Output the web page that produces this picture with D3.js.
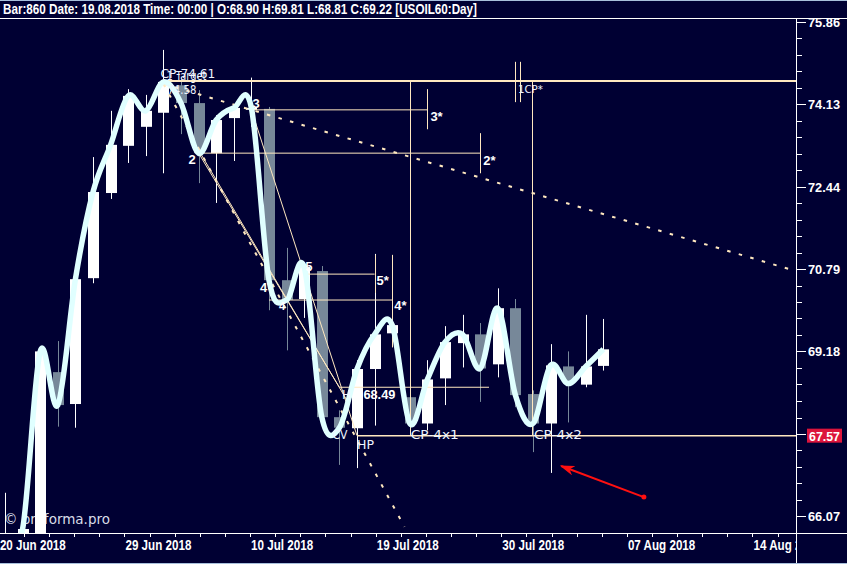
<!DOCTYPE html>
<html><head><meta charset="utf-8">
<script src="https://cdn.jsdelivr.net/npm/d3@7"></script>
<style>
html,body{margin:0;padding:0;background:#000033;overflow:hidden}
svg{display:block}
.nar{font-family:"Liberation Sans Narrow","Arial Narrow","Liberation Sans",Arial,sans-serif;font-weight:bold}
.reg{font-family:"DejaVu Sans","Liberation Sans",sans-serif}
</style></head><body>
<svg id="c" width="847" height="564"></svg>
<script>
// ---------- data ----------
const dates = ["2018-06-20","2018-06-21","2018-06-22","2018-06-25","2018-06-26","2018-06-27","2018-06-28","2018-06-29",
  "2018-07-02","2018-07-03","2018-07-04","2018-07-05","2018-07-06","2018-07-09","2018-07-10","2018-07-11","2018-07-12",
  "2018-07-13","2018-07-16","2018-07-17","2018-07-18","2018-07-19","2018-07-20","2018-07-23","2018-07-24","2018-07-25",
  "2018-07-26","2018-07-27","2018-07-30","2018-07-31","2018-08-01","2018-08-02","2018-08-03","2018-08-06","2018-08-07"];
const opens  = [65.45,65.40,65.75,68.78,68.17,70.61,72.31,73.27,73.66,73.95,74.52,74.15,73.12,73.84,74.01,74.03,70.57,70.20,70.75,67.92,67.71,68.84,69.53,68.30,67.80,68.66,69.34,69.51,68.93,70.02,68.36,67.80,68.89,68.54,68.90];
const highs  = [66.50,66.18,69.22,69.38,70.85,73.04,73.99,74.44,74.32,75.26,74.69,74.42,73.90,74.13,74.68,74.07,71.21,70.93,70.85,68.05,69.01,71.09,71.07,68.53,69.01,69.67,69.89,69.73,70.41,70.20,68.43,69.32,69.18,69.89,69.81];
const lows   = [65.20,65.30,65.60,67.74,67.72,70.51,72.19,72.92,73.06,72.71,73.51,72.51,72.11,72.96,73.66,69.98,69.20,69.83,67.71,67.02,66.96,67.76,69.26,67.67,67.67,68.15,68.87,68.21,68.68,68.11,67.26,66.87,67.82,68.49,68.81];
const closes = [65.70,65.83,69.18,68.15,70.59,72.33,73.29,74.30,73.99,74.59,74.15,73.12,73.80,74.05,74.05,70.57,70.18,70.83,67.92,67.72,68.84,69.51,69.69,67.80,68.64,69.36,69.51,68.85,70.02,68.34,67.80,68.91,68.56,68.89,69.22];

const priceTicks  = [75.86,74.13,72.44,70.79,69.18,67.60,66.07];
const priceLabels = ["75.86","74.13","72.44","70.79","69.18","","66.07"];
const lastPrice = 67.57;
const dateLabels = ["20 Jun 2018","29 Jun 2018","10 Jul 2018","19 Jul 2018","30 Jul 2018","07 Aug 2018","14 Aug 2018"];
const dateLabelSlots = [-1,4,9,14,19,24,29];
const header = "Bar:860 Date: 19.08.2018 Time: 00:00 | O:68.90 H:69.81 L:68.81 C:69.22  [USOIL60:Day]";

// annotation objects (bar index, price)
const hLines = [ // [i0, i1 (null = right edge), price, width]
  [9,null,74.61,2],[14,24,74.01,1],[11,27,73.12,1],[17,21,70.69,1],[15,22,70.18,1],[19,27.5,68.49,1],[20,null,67.57,1.5]];
const vLines = [ // [i, p0, p1]
  [23,74.61,67.57],[29.95,74.61,67.57],[29,75.01,74.17],[29.25,75.01,74.17],
  [24,74.44,73.61],[27,73.53,72.71],[21,71.07,70.32],[22,71.07,69.26]];
const fanLines = [ // [i0,p0,i1,p1]
  [11,73.12,19,68.49],[11.1,73.12,19.5,68.2],[14,74.01,20,67.57]];
const dotLines = [[9,74.55,44.94,70.75],[9,74.55,22.7,65.87]];
const labels = [ // [text, i, price, dx, dy, cls, size, width]
  ["CP-74.61",9,74.61,-3,-3,"reg",12,55],["1 Target",9,74.61,3,-1,"reg",12,40],["74.58",9,74.58,4,11.5,"reg",12,29],
  ["2",11,73.12,-10,11,"nar",13,0],["3",14,74.01,1,-2,"nar",13,0],["3*",24,74.01,3,11,"nar",13,0],["2*",27,73.12,3,12,"nar",13,0],
  ["5",17,70.69,1,-3,"nar",13,0],["5*",21,70.69,2,11,"nar",13,0],["4",15,70.18,-9,-8,"nar",13,0],["4",15,70.18,10,10,"nar",11,0],
  ["4*",22,70.18,2,10,"nar",13,0],["H",19,68.49,2.5,12,"reg",12,0],["68.49",19,68.49,24,12,"nar",13,32],
  ["CV",19,67.57,-7,3,"reg",12,15],["HP",20,67.57,0,13,"reg",12,17],["CP-4x1",23,67.57,1,3,"reg",13,48],["CP-4x2",30,67.57,1,3,"reg",13,48],
  ["1CP*",29,74.61,2.5,12,"reg",11,25]];
const arrow = [36.3,66.42,31.6,67.0];

// ---------- drawing ----------
const W=847,H=564,plotR=796,plotT=18,plotB=533;
const svg = d3.select("#c");
const x = d3.scaleLinear().domain([0,34]).range([5,603.4]);
const y = d3.scaleLog().domain([66.07,75.86]).range([516,21.5]);
const slot = d3.scaleLinear().domain([0,1]).range([24,49.12]);

svg.append("rect").attr("width",W).attr("height",H).attr("fill","#000033");
const defs = svg.append("defs");
defs.append("clipPath").attr("id","plot").append("rect").attr("x",0).attr("y",plotT).attr("width",plotR).attr("height",plotB-plotT);
defs.append("marker").attr("id","ah").attr("viewBox","0 0 10 10").attr("refX",9).attr("refY",5)
  .attr("markerUnits","userSpaceOnUse").attr("markerWidth",15).attr("markerHeight",10).attr("orient","auto")
  .attr("preserveAspectRatio","none")
  .append("path").attr("d","M0,0L10,5L0,10L3,5z").attr("fill","#ff1010");

const g = svg.append("g").attr("clip-path","url(#plot)");

// watermark
g.append("text").attr("class","reg").attr("x",4).attr("y",524).attr("font-size",13.5).attr("fill","#d8dce8")
  .attr("textLength",106).attr("lengthAdjust","spacingAndGlyphs").text("© proforma.pro");

// candles
const idx = d3.range(dates.length);
const bull = i => closes[i] >= opens[i];
g.selectAll("line.wick").data(idx).join("line").attr("class","wick")
  .attr("x1",i=>Math.round(x(i))+0.5).attr("x2",i=>Math.round(x(i))+0.5)
  .attr("y1",i=>y(highs[i])).attr("y2",i=>y(lows[i]))
  .attr("stroke",i=>bull(i)?"#ffffff":"#778899").attr("stroke-width",1);
g.selectAll("rect.body").data(idx).join("rect").attr("class","body")
  .attr("x",i=>Math.round(x(i))-5).attr("width",11)
  .attr("y",i=>Math.min(y(opens[i]),y(closes[i])))
  .attr("height",i=>Math.max(1,Math.abs(y(opens[i])-y(closes[i]))))
  .attr("fill",i=>bull(i)?"#ffffff":"#778899");

// annotations
const cream = "#ffe8c0";
const xi = i => i===null ? plotR : x(i);
g.selectAll("line.h").data(hLines).join("line").attr("class","h")
  .attr("x1",d=>xi(d[0])).attr("x2",d=>xi(d[1])).attr("y1",d=>y(d[2])).attr("y2",d=>y(d[2]))
  .attr("stroke",cream).attr("stroke-width",d=>d[3]);
g.selectAll("line.v").data(vLines).join("line").attr("class","v")
  .attr("x1",d=>Math.round(x(d[0]))+0.5).attr("x2",d=>Math.round(x(d[0]))+0.5).attr("y1",d=>y(d[1])).attr("y2",d=>y(d[2]))
  .attr("stroke",cream).attr("stroke-width",1);
g.selectAll("line.f").data(fanLines).join("line").attr("class","f")
  .attr("x1",d=>x(d[0])).attr("y1",d=>y(d[1])).attr("x2",d=>x(d[2])).attr("y2",d=>y(d[3]))
  .attr("stroke",cream).attr("stroke-width",1);
g.selectAll("line.d").data(dotLines).join("line").attr("class","d")
  .attr("x1",d=>x(d[0])).attr("y1",d=>y(d[1])).attr("x2",d=>x(d[2])).attr("y2",d=>y(d[3]))
  .attr("stroke",cream).attr("stroke-width",2).attr("stroke-dasharray","3.5,8.5");

// smoothed curve
g.append("path").datum(idx)
  .attr("d", d3.line().x(i=>x(i)).y(i=>y(closes[i])).curve(d3.curveCardinal.tension(0)))
  .attr("fill","none").attr("stroke","#e0ffff").attr("stroke-width",5.5).attr("stroke-linejoin","round");

// labels
g.selectAll("text.lab").data(labels).join("text")
  .attr("class",d=>"lab "+d[5]).attr("x",d=>x(d[1])+d[3]).attr("y",d=>y(d[2])+d[4])
  .attr("font-size",d=>d[6]).attr("fill",d=>d[5]==="reg"?"#eef4ff":"#ffffff")
  .each(function(d){ if (d[7]) d3.select(this).attr("textLength",d[7]).attr("lengthAdjust","spacingAndGlyphs"); })
  .text(d=>d[0]);

// red arrow
g.append("line").attr("x1",x(arrow[0])).attr("y1",y(arrow[1])).attr("x2",x(arrow[2])).attr("y2",y(arrow[3]))
  .attr("stroke","#ff1010").attr("stroke-width",2).attr("marker-end","url(#ah)");
g.append("circle").attr("cx",x(arrow[0])).attr("cy",y(arrow[1])).attr("r",2.5).attr("fill","#ff1010");

// frame lines
svg.append("line").attr("x1",0).attr("x2",W).attr("y1",plotT+0.5).attr("y2",plotT+0.5).attr("stroke","#ffffff");
svg.append("line").attr("x1",0).attr("x2",W).attr("y1",plotB+0.5).attr("y2",plotB+0.5).attr("stroke","#ffffff");
svg.append("line").attr("x1",plotR+0.5).attr("x2",plotR+0.5).attr("y1",plotT).attr("y2",H).attr("stroke","#ffffff");
svg.append("rect").attr("x",0).attr("y",0).attr("width",W).attr("height",1).attr("fill","#a8c0dc");
svg.append("rect").attr("x",0).attr("y",H-1).attr("width",W).attr("height",1).attr("fill","#a8c0dc");

// header
svg.append("text").attr("class","nar").attr("x",3).attr("y",14).attr("font-size",14).attr("fill","#ffffff")
  .attr("textLength",474).attr("lengthAdjust","spacingAndGlyphs").text(header);

// price axis
const minor = [];
for (let k=0;k<priceTicks.length-1;k++){
  const a=Math.log(priceTicks[k]), b=Math.log(priceTicks[k+1]);
  for (let j=1;j<5;j++) minor.push(Math.exp(a+(b-a)*j/5));
}
svg.selectAll("line.mn").data(minor).join("line")
  .attr("x1",plotR).attr("x2",plotR+6).attr("y1",d=>Math.round(y(d))+0.5).attr("y2",d=>Math.round(y(d))+0.5).attr("stroke","#ffffff");
svg.selectAll("line.mj").data(priceTicks).join("line")
  .attr("x1",plotR).attr("x2",plotR+10).attr("y1",d=>Math.round(y(d))+0.5).attr("y2",d=>Math.round(y(d))+0.5).attr("stroke","#ffffff");
svg.selectAll("text.pl").data(priceTicks).join("text").attr("class","nar")
  .attr("x",808).attr("y",d=>y(d)+5).attr("font-size",13).attr("fill","#ffffff")
  .attr("textLength",32).attr("lengthAdjust","spacingAndGlyphs").text((d,i)=>priceLabels[i]);
svg.append("rect").attr("x",807).attr("y",y(lastPrice)-7).attr("width",35).attr("height",14).attr("fill","#dc143c");
svg.append("text").attr("class","nar").attr("x",809).attr("y",y(lastPrice)+5).attr("font-size",13).attr("fill","#ffffff")
  .attr("textLength",31).attr("lengthAdjust","spacingAndGlyphs").text(d3.format(".2f")(lastPrice));

// time axis
defs.append("clipPath").attr("id","tax").append("rect").attr("x",0).attr("y",plotB).attr("width",plotR).attr("height",H-plotB);
const ta = svg.append("g").attr("clip-path","url(#tax)");
ta.selectAll("line.tt").data(d3.range(-1,32)).join("line")
  .attr("x1",k=>Math.round(slot(k))+0.5).attr("x2",k=>Math.round(slot(k))+0.5).attr("y1",plotB).attr("y2",plotB+4).attr("stroke","#ffffff");
ta.selectAll("text.dl").data(dateLabels).join("text").attr("class","nar")
  .attr("x",(d,i)=>slot(dateLabelSlots[i])+1).attr("y",550).attr("font-size",14).attr("fill","#ffffff")
  .text(d=>d)
  .each(function(){ const L=this.getComputedTextLength(); d3.select(this).attr("textLength",L*0.83).attr("lengthAdjust","spacingAndGlyphs"); });
</script>
</body></html>
